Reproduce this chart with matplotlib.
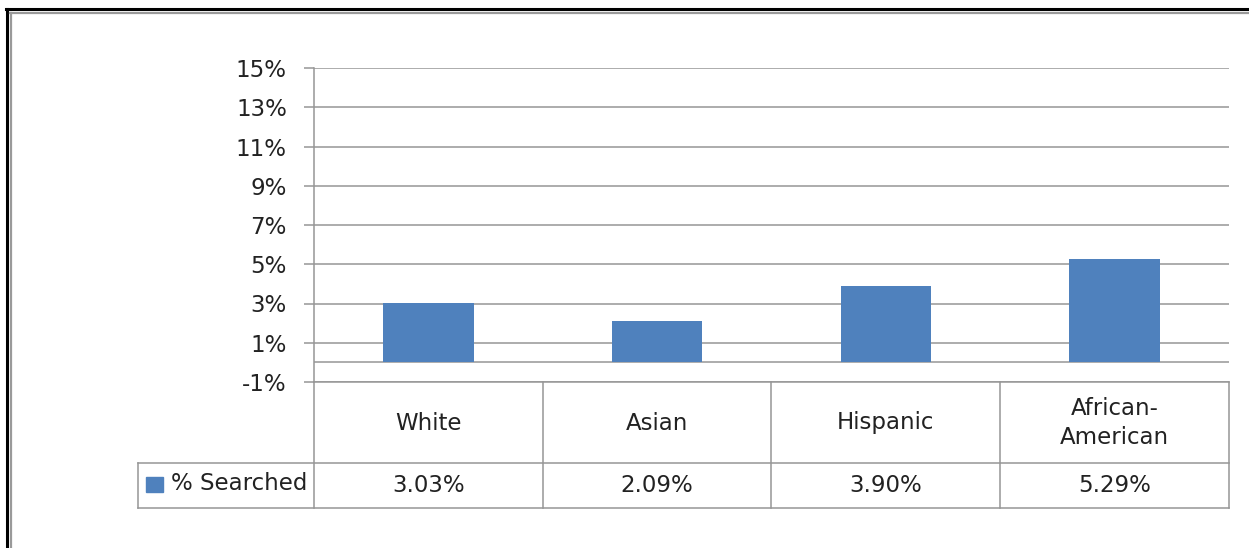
import matplotlib
matplotlib.use("Agg")
import matplotlib.pyplot as plt
from matplotlib.lines import Line2D
from matplotlib.patches import Rectangle

categories = ["White", "Asian", "Hispanic", "African-\nAmerican"]
searched = [3.03, 2.09, 3.90, 5.29]
value_labels = ["3.03%", "2.09%", "3.90%", "5.29%"]
series_name = "% Searched"
yticks = [-1, 1, 3, 5, 7, 9, 11, 13, 15]

W, H = 1249, 548
BLUE = "#4F81BD"
GRID = "#969696"
TXT = "#222222"
plt.rcParams["font.family"] = ["DejaVu Sans"]
FS = 16.5

fig = plt.figure(figsize=(W / 100, H / 100), dpi=100)

def box(x0, y0, x1, y1):
    # pixel box (top-left origin) -> figure fraction rect
    return [x0 / W, 1 - y1 / H, (x1 - x0) / W, (y1 - y0) / H]

# ---- main bar plot ----
ax = fig.add_axes(box(314, 68, 1229, 382))
x = range(len(categories))
ax.bar(x, searched, width=0.395, color=BLUE, zorder=3)
ax.set_xlim(-0.5, len(categories) - 0.5)
ax.set_ylim(-1, 15)
ax.set_yticks(yticks)
ax.set_yticklabels([f"{t}%" for t in yticks], fontsize=FS, color=TXT)
ax.set_xticks([])
ax.grid(axis="y", color=GRID, lw=1.1, zorder=0)
ax.axhline(0, color=GRID, lw=1.1, zorder=2)
for s in ["top", "right", "bottom"]:
    ax.spines[s].set_visible(False)
ax.spines["left"].set_color(GRID)
ax.spines["left"].set_linewidth(1.1)
ax.tick_params(axis="y", length=7, width=1.1, color=GRID, pad=12.5)

# ---- data table below ----
tx = fig.add_axes(box(138, 382, 1229, 508))
lab_w = 176 / 228.75
tx.set_xlim(-lab_w - 0.5, len(categories) - 0.5)
tx.set_ylim(0, 126)
tx.axis("off")
kw = dict(color=GRID, lw=1.1, clip_on=False)
tx.add_line(Line2D([-0.5, len(categories) - 0.5], [126, 126], **kw))
tx.add_line(Line2D([-lab_w - 0.5, len(categories) - 0.5], [45, 45], **kw))
tx.add_line(Line2D([-lab_w - 0.5, len(categories) - 0.5], [0, 0], **kw))
tx.add_line(Line2D([-lab_w - 0.5, -lab_w - 0.5], [0, 45], **kw))
for i in range(len(categories) + 1):
    tx.add_line(Line2D([i - 0.5, i - 0.5], [0, 126], **kw))
for i, (c, v) in enumerate(zip(categories, value_labels)):
    tx.text(i, 85, c, ha="center", va="center", fontsize=FS, color=TXT, linespacing=1.3)
    tx.text(i, 22, v, ha="center", va="center", fontsize=FS, color=TXT)
tx.add_patch(Rectangle((-lab_w - 0.5 + 8 / 228.75, 16), 17 / 228.75, 15,
                       color=BLUE, clip_on=False))
tx.text(-lab_w - 0.5 + 33 / 228.75, 24, series_name, ha="left", va="center",
        fontsize=FS, color=TXT)

# ---- frame around the chart ----
fig.add_artist(Line2D([6 / W, 1], [1 - 9 / H, 1 - 9 / H], color="black", lw=2.2))
fig.add_artist(Line2D([7 / W, 7 / W], [0, 1 - 9 / H], color="black", lw=2.2))
fig.add_artist(Line2D([10 / W, 1], [1 - 12.5 / H, 1 - 12.5 / H], color="#9a9a9a", lw=1.6))
fig.add_artist(Line2D([11 / W, 11 / W], [0, 1 - 12.5 / H], color="#9a9a9a", lw=1.6))

fig.savefig("out.png", dpi=100)
